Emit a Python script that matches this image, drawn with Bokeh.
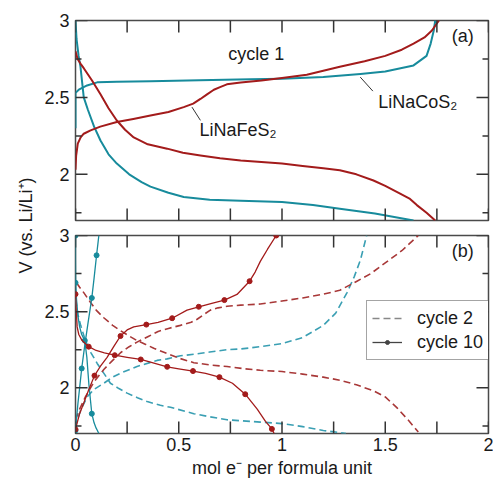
from math import pi
from bokeh.plotting import figure
from bokeh.layouts import row, column
from bokeh.models import (Range1d, LinearAxis, FixedTicker, CustomJSTickFormatter,
                          Label, Legend, LegendItem, Segment, ColumnDataSource)
from bokeh.embed import file_html
from bokeh.resources import INLINE

# ---------------- data ----------------
x_ticks = [0, 0.25, 0.5, 0.75, 1.0, 1.25, 1.5, 1.75, 2.0]
x_tick_labels = ["0", "", "0.5", "", "1", "", "1.5", "", "2"]
y_ticks = [2.0, 2.5, 3.0]
y_minor_ticks = [1.75, 2.25, 2.75]
y_tick_labels = ["2", "2.5", "3"]
x_min, x_max = 0.0, 2.0
y_min, y_max = 1.7, 3.0

# (a) cycle 1
co_charge_x = [0, 0, 0.016, 0.056, 0.105, 0.2, 0.363, 0.6, 0.847, 1.0, 1.2, 1.38, 1.5, 1.637, 1.70, 1.72, 1.735, 1.742]
co_charge_y = [2.30, 2.53, 2.55, 2.578, 2.598, 2.602, 2.605, 2.612, 2.618, 2.622, 2.632, 2.652, 2.668, 2.708, 2.77, 2.85, 2.935, 3.0]
co_dis_x = [0, 0.005, 0.015, 0.024, 0.04, 0.06, 0.09, 0.121, 0.16, 0.2, 0.26, 0.32, 0.363, 0.45, 0.524, 0.65, 0.8, 1.0, 1.15, 1.28, 1.45, 1.637]
co_dis_y = [3.0, 2.88, 2.77, 2.70, 2.50, 2.42, 2.31, 2.22, 2.13, 2.07, 2.0, 1.95, 1.92, 1.88, 1.853, 1.835, 1.828, 1.82, 1.80, 1.777, 1.745, 1.70]
fe_charge_x = [0, 0.003, 0.011, 0.025, 0.04, 0.073, 0.12, 0.2, 0.28, 0.363, 0.45, 0.524, 0.57, 0.605, 0.637, 0.67, 0.70, 0.733, 0.8, 0.9, 1.0, 1.12, 1.28, 1.4, 1.5, 1.58, 1.637, 1.69, 1.726, 1.76]
fe_charge_y = [2.03, 2.12, 2.20, 2.24, 2.264, 2.286, 2.31, 2.34, 2.36, 2.383, 2.405, 2.437, 2.46, 2.49, 2.52, 2.55, 2.567, 2.585, 2.597, 2.61, 2.627, 2.648, 2.70, 2.735, 2.77, 2.81, 2.85, 2.89, 2.935, 3.0]
fe_dis_x = [0, 0.01, 0.024, 0.04, 0.08, 0.121, 0.16, 0.2, 0.24, 0.282, 0.35, 0.444, 0.52, 0.605, 0.7, 0.8, 0.9, 1.0, 1.1, 1.2, 1.28, 1.36, 1.443, 1.5, 1.572, 1.62, 1.653, 1.70, 1.742]
fe_dis_y = [2.80, 2.75, 2.72, 2.69, 2.61, 2.52, 2.43, 2.35, 2.29, 2.24, 2.195, 2.167, 2.14, 2.123, 2.105, 2.09, 2.08, 2.07, 2.055, 2.04, 2.026, 2.0, 1.96, 1.925, 1.875, 1.84, 1.80, 1.75, 1.70]

# (b) cycle 10 (solid, markers) and cycle 2 (dashed)
co10_charge_x = [0, 0.005, 0.012, 0.02, 0.03, 0.045, 0.06, 0.079, 0.09, 0.102, 0.108, 0.113]
co10_charge_y = [1.72, 1.80, 1.90, 2.00, 2.127, 2.28, 2.42, 2.59, 2.72, 2.87, 2.94, 3.0]
co10_charge_mx = [0, 0.03, 0.079, 0.102]
co10_charge_my = [1.72, 2.127, 2.59, 2.87]
co10_dis_x = [0, 0.0, 0.001, 0.005, 0.012, 0.02, 0.03, 0.045, 0.055, 0.065, 0.079, 0.09, 0.1, 0.106, 0.113]
co10_dis_y = [3.0, 2.85, 2.69, 2.58, 2.47, 2.40, 2.35, 2.31, 2.2, 2.02, 1.83, 1.77, 1.735, 1.72, 1.70]
co10_dis_mx = [0, 0.0, 0.045, 0.079]
co10_dis_my = [3.0, 2.69, 2.31, 1.83]
fe10_charge_x = [0, 0.01, 0.02, 0.04, 0.065, 0.092, 0.12, 0.153, 0.185, 0.218, 0.25, 0.282, 0.343, 0.4, 0.468, 0.54, 0.597, 0.66, 0.721, 0.782, 0.843, 0.87, 0.895, 0.93, 0.972]
fe10_charge_y = [1.727, 1.78, 1.83, 1.90, 1.99, 2.08, 2.14, 2.20, 2.27, 2.34, 2.38, 2.40, 2.415, 2.43, 2.457, 2.51, 2.532, 2.555, 2.576, 2.613, 2.70, 2.76, 2.83, 2.91, 3.0]
fe10_charge_mx = [0, 0.092, 0.218, 0.343, 0.468, 0.597, 0.721, 0.843, 0.972]
fe10_charge_my = [1.727, 2.08, 2.34, 2.415, 2.457, 2.532, 2.576, 2.70, 3.0]
fe10_dis_x = [0, 0.004, 0.008, 0.016, 0.032, 0.064, 0.1, 0.14, 0.19, 0.25, 0.316, 0.38, 0.444, 0.5, 0.569, 0.63, 0.697, 0.76, 0.822, 0.88, 0.92, 0.951, 0.962]
fe10_dis_y = [2.615, 2.5, 2.40, 2.35, 2.31, 2.27, 2.245, 2.23, 2.214, 2.20, 2.186, 2.162, 2.138, 2.125, 2.11, 2.095, 2.07, 2.03, 1.958, 1.86, 1.78, 1.73, 1.70]
fe10_dis_mx = [0, 0.064, 0.19, 0.316, 0.444, 0.569, 0.697, 0.822, 0.951]
fe10_dis_my = [2.615, 2.27, 2.214, 2.186, 2.138, 2.11, 2.07, 1.958, 1.73]

fe2_charge_x = [0, 0.02, 0.048, 0.09, 0.137, 0.18, 0.218, 0.26, 0.298, 0.35, 0.4, 0.45, 0.508, 0.56, 0.589, 0.62, 0.653, 0.69, 0.734, 0.8, 0.895, 1.0, 1.1, 1.2, 1.28, 1.363, 1.43, 1.5, 1.58, 1.66]
fe2_charge_y = [1.79, 1.86, 1.94, 2.04, 2.12, 2.18, 2.23, 2.27, 2.30, 2.335, 2.37, 2.39, 2.41, 2.43, 2.45, 2.48, 2.51, 2.525, 2.535, 2.543, 2.55, 2.57, 2.59, 2.615, 2.64, 2.70, 2.75, 2.82, 2.90, 3.0]
fe2_dis_x = [0.005, 0.02, 0.04, 0.073, 0.1, 0.137, 0.18, 0.218, 0.26, 0.298, 0.34, 0.379, 0.444, 0.5, 0.573, 0.65, 0.734, 0.82, 0.895, 1.0, 1.1, 1.2, 1.28, 1.36, 1.443, 1.5, 1.556, 1.61, 1.66]
fe2_dis_y = [2.69, 2.66, 2.625, 2.56, 2.51, 2.46, 2.41, 2.375, 2.34, 2.31, 2.285, 2.26, 2.225, 2.195, 2.165, 2.15, 2.14, 2.125, 2.115, 2.107, 2.09, 2.07, 2.05, 2.02, 1.98, 1.94, 1.87, 1.79, 1.71]
co2_charge_x = [0, 0.005, 0.012, 0.024, 0.056, 0.09, 0.137, 0.18, 0.218, 0.298, 0.395, 0.444, 0.508, 0.573, 0.65, 0.734, 0.8, 0.895, 1.0, 1.1, 1.2, 1.26, 1.315, 1.35, 1.38, 1.41]
co2_charge_y = [1.74, 1.77, 1.80, 1.85, 1.94, 1.99, 2.03, 2.07, 2.096, 2.14, 2.18, 2.19, 2.21, 2.22, 2.235, 2.25, 2.255, 2.27, 2.29, 2.33, 2.41, 2.49, 2.625, 2.73, 2.84, 3.0]
co2_dis_x = [0.002, 0.006, 0.012, 0.025, 0.048, 0.075, 0.105, 0.14, 0.169, 0.21, 0.25, 0.3, 0.347, 0.411, 0.46, 0.573, 0.65, 0.734, 0.895, 1.0, 1.1, 1.2, 1.31]
co2_dis_y = [2.58, 2.53, 2.48, 2.41, 2.31, 2.23, 2.16, 2.09, 2.03, 1.995, 1.965, 1.935, 1.91, 1.885, 1.872, 1.83, 1.81, 1.79, 1.775, 1.765, 1.745, 1.72, 1.70]

# ---------------- style ----------------
FONT = "Liberation Sans"
TEAL = "#178b9c"
RED = "#a31b1b"
TEAL_D = "#3a9fb3"
RED_D = "#a83838"
FRAME = "#4a4a4a"
TICK = "#333333"
TXT = "#1a1a1a"
NAN = float("nan")
FIG_W = 453
BORDER_L, BORDER_R = 35, 5
FRAME_W = FIG_W - BORDER_L - BORDER_R
MAJOR_LEN, MINOR_LEN = 12, 6


def make_formatter(tick_vals, tick_labs):
    return CustomJSTickFormatter(args=dict(tv=tick_vals, tl=tick_labs),
                                 code="const i = tv.findIndex(t => Math.abs(t - tick) < 1e-9); return i >= 0 ? tl[i] : '';")


def style_axis(ax):
    ax.axis_line_color = None
    ax.major_tick_in = 0
    ax.major_tick_out = 0
    ax.minor_tick_in = 0
    ax.minor_tick_out = 0
    ax.major_tick_line_color = None
    ax.minor_tick_line_color = None
    ax.major_label_text_font = FONT
    ax.major_label_text_color = TXT
    ax.major_label_text_font_size = "18px"
    ax.major_label_standoff = 6


def add_ticks(p, frame_h):
    # inward ticks on all four sides at the tick values, each a short line glyph
    dx = (x_max - x_min) / FRAME_W
    dy = (y_max - y_min) / frame_h
    kw = dict(line_color=TICK, line_width=1.5)
    for t in y_ticks:
        p.line([x_min, x_min + MAJOR_LEN * dx], [t, t], **kw)
        p.line([x_max - MAJOR_LEN * dx, x_max], [t, t], **kw)
    for t in y_minor_ticks:
        p.line([x_min, x_min + MINOR_LEN * dx], [t, t], **kw)
        p.line([x_max - MINOR_LEN * dx, x_max], [t, t], **kw)
    for t in x_ticks:
        p.line([t, t], [y_min, y_min + MAJOR_LEN * dy], **kw)
        p.line([t, t], [y_max - MAJOR_LEN * dy, y_max], **kw)


def make_panel(height, top, bottom, x_labels):
    p = figure(width=FIG_W, height=height, x_range=Range1d(x_min, x_max), y_range=Range1d(y_min, y_max),
               output_backend="svg", toolbar_location=None, x_axis_type=None, y_axis_type=None,
               min_border_left=BORDER_L, min_border_right=BORDER_R, min_border_top=top, min_border_bottom=bottom)
    p.outline_line_color = FRAME
    p.outline_line_width = 1.5
    p.background_fill_color = "white"
    p.border_fill_color = "white"
    yt = FixedTicker(ticks=y_ticks, minor_ticks=y_minor_ticks)
    left = LinearAxis(ticker=yt, formatter=make_formatter(y_ticks, y_tick_labels))
    style_axis(left)
    p.add_layout(left, "left")
    if x_labels:
        xt = FixedTicker(ticks=x_ticks, minor_ticks=[])
        below = LinearAxis(ticker=xt, formatter=make_formatter(x_ticks, x_tick_labels))
        style_axis(below)
        below.major_label_standoff = 4
        below.axis_label = "mol e\u207b per formula unit"
        below.axis_label_text_font = FONT
        below.axis_label_text_font_size = "18px"
        below.axis_label_text_font_style = "normal"
        below.axis_label_text_color = TXT
        below.axis_label_standoff = 4
        p.add_layout(below, "below")
    return p


def add_label(p, x, y, text, align="left", baseline="alphabetic", size="18px"):
    p.add_layout(Label(x=x, y=y, text=text, text_font=FONT, text_font_size=size, text_color=TXT,
                       text_align=align, text_baseline=baseline))


# ---------------- panel (a) ----------------
p1 = make_panel(227, 20, 7, False)
for xs, ys, c in [(co_charge_x, co_charge_y, TEAL), (co_dis_x, co_dis_y, TEAL),
                  (fe_charge_x, fe_charge_y, RED), (fe_dis_x, fe_dis_y, RED)]:
    p1.line(xs, ys, line_color=c, line_width=2, line_join="round")

# leader lines for compound labels
leader_src = ColumnDataSource(dict(x0=[0.564, 1.379], y0=[2.437, 2.632], x1=[0.605, 1.44], y1=[2.351, 2.541]))
p1.add_glyph(leader_src, Segment(x0="x0", y0="y0", x1="x1", y1="y1", line_color="#333", line_width=1))

add_label(p1, 0.875, 2.785, "cycle 1", "center", "middle")
add_label(p1, 1.875, 2.90, "(a)", "center", "middle")
add_label(p1, 0.60, 2.286, "LiNaFeS\u2082")
add_label(p1, 1.466, 2.47, "LiNaCoS\u2082")
add_ticks(p1, 227 - 20 - 7)

# ---------------- panel (b) ----------------
p2 = make_panel(255, 8, 49, True)
for xs, ys, c in [(co2_charge_x, co2_charge_y, TEAL_D), (co2_dis_x, co2_dis_y, TEAL_D),
                  (fe2_charge_x, fe2_charge_y, RED_D), (fe2_dis_x, fe2_dis_y, RED_D)]:
    p2.line(xs, ys, line_color=c, line_width=1.6, line_dash="7 4", line_join="round")
for xs, ys, mx, my, c in [(co10_charge_x, co10_charge_y, co10_charge_mx, co10_charge_my, TEAL),
                          (co10_dis_x, co10_dis_y, co10_dis_mx, co10_dis_my, TEAL),
                          (fe10_charge_x, fe10_charge_y, fe10_charge_mx, fe10_charge_my, RED),
                          (fe10_dis_x, fe10_dis_y, fe10_dis_mx, fe10_dis_my, RED)]:
    p2.line(xs, ys, line_color=c, line_width=1.3, line_join="round")
    p2.scatter(mx, my, size=5, color=c)
add_ticks(p2, 255 - 8 - 49)

add_label(p2, 1.875, 2.90, "(b)", "center", "middle")

lg1 = p2.line([NAN], [NAN], line_color="#888", line_width=1.5, line_dash="7 4")
lg2 = p2.line([NAN], [NAN], line_color="#444", line_width=1.3)
lg3 = p2.scatter([NAN], [NAN], size=4, color="#444")
legend = Legend(items=[LegendItem(label="cycle 2", renderers=[lg1]),
                       LegendItem(label="cycle 10", renderers=[lg2, lg3])],
                location=(291, 73), label_text_font=FONT, label_text_font_size="18px",
                label_text_color=TXT, glyph_width=30, glyph_height=10, label_height=24,
                label_standoff=15, padding=5, spacing=0, margin=0,
                border_line_color=FRAME, border_line_width=1.2, background_fill_alpha=1)
p2.add_layout(legend)

# ---------------- y title ----------------
py = figure(width=40, height=482, x_range=Range1d(0, 40), y_range=Range1d(0, 482),
            output_backend="svg", toolbar_location=None, x_axis_type=None, y_axis_type=None,
            min_border=0, outline_line_color=None)
py.add_layout(Label(x=25, y=257, text="V (vs. Li/Li\u207a)", angle=pi / 2, text_font=FONT,
                    text_font_size="18px", text_color=TXT, text_align="center", text_baseline="middle"))

layout = row(py, column(p1, p2, spacing=0), spacing=0)
open("out.html", "w").write(file_html(layout, INLINE))
